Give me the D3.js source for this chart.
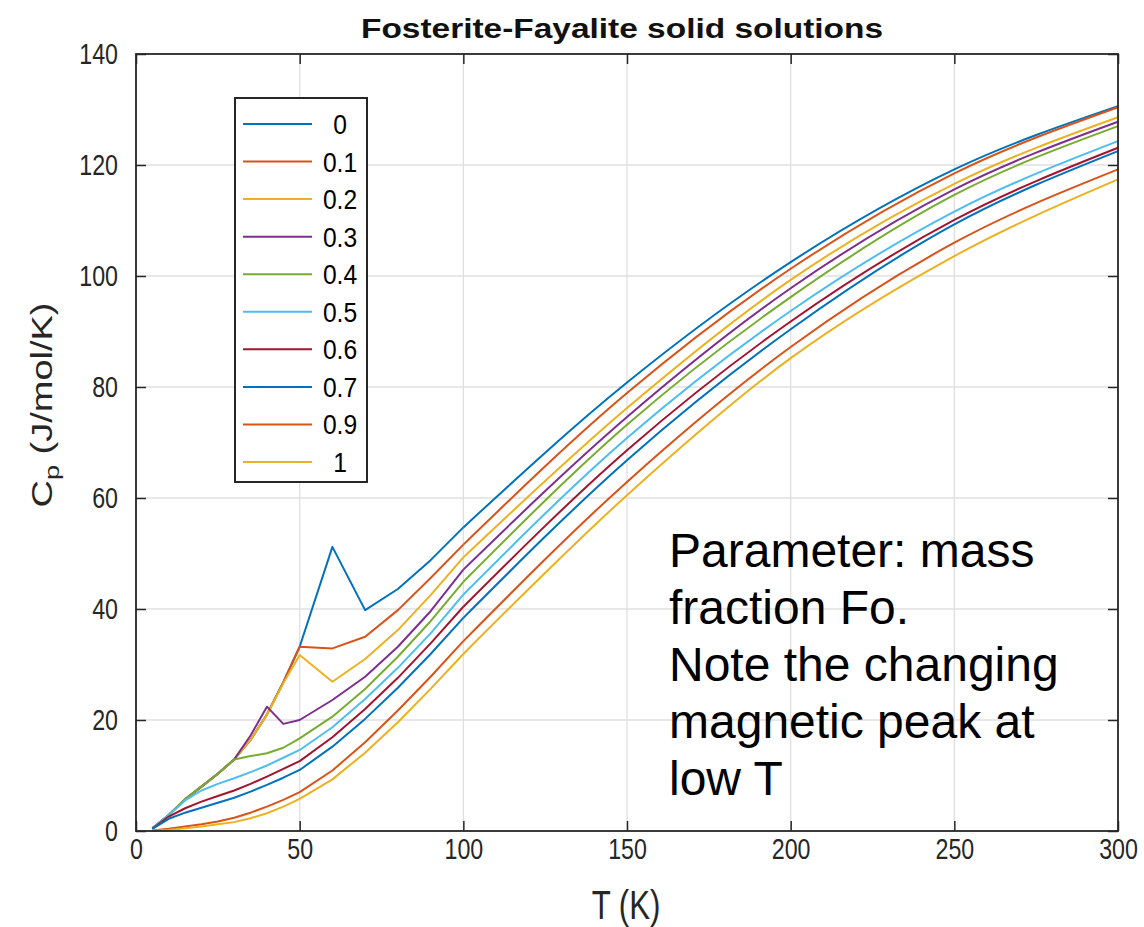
<!DOCTYPE html>
<html>
<head>
<meta charset="utf-8">
<script src="https://cdn.jsdelivr.net/npm/d3@7"></script>
<style>
  html, body { margin: 0; padding: 0; background: #fff; }
  svg { display: block; }
</style>
</head>
<body>
<svg id="chart" width="1144" height="927"></svg>
<script>
// ---- data ----
const temps = [5,10,15,20,25,30,35,40,45,50,60,70,80,90,100,150,200,250,300];
const seriesNames = ["0","0.1","0.2","0.3","0.4","0.5","0.6","0.7","0.9","1"];
const fo00 = [0.5,2.9,5.7,8.0,10.3,12.9,16.4,21.0,26.8,33.2,51.2,39.8,43.6,48.8,54.7,80.8,102.5,119.2,130.6];
const fo01 = [0.5,2.9,5.7,8.0,10.3,12.9,16.4,21.0,26.8,33.2,32.9,35.0,39.8,45.6,51.6,78.9,101.3,118.5,130.4];
const fo02 = [0.5,2.9,5.7,8.0,10.3,12.9,16.4,21.0,26.6,31.7,26.9,31.0,36.2,42.5,49.3,76.2,99.3,116.6,128.6];
const fo03 = [0.5,2.9,5.7,8.0,10.3,12.9,17.2,22.4,19.3,20.0,23.6,27.8,33.2,39.6,47.1,74.6,97.8,115.6,127.8];
const fo04 = [0.5,2.9,5.7,8.0,10.3,12.9,13.5,14.0,15.0,16.7,20.6,25.6,31.4,37.8,44.9,73.2,96.2,114.6,127.0];
const fo05 = [0.5,2.9,5.5,7.3,8.5,9.5,10.6,11.8,13.2,14.6,18.7,23.8,29.4,35.6,42.6,70.8,93.7,111.6,124.3];
const fo06 = [0.4,2.6,4.1,5.3,6.3,7.3,8.5,9.8,11.2,12.6,16.9,22.0,27.6,33.8,40.4,68.6,91.8,110.1,123.1];
const fo07 = [0.4,2.2,3.3,4.2,5.1,6.0,7.1,8.3,9.6,11.0,15.2,20.2,25.8,31.9,38.4,66.8,90.4,109.3,122.5];
const fo09 = [0.1,0.4,0.8,1.2,1.7,2.4,3.3,4.4,5.6,7.0,10.9,16.0,21.7,27.8,34.2,62.9,87.2,106.0,119.2];
const fo10 = [0.05,0.2,0.5,0.8,1.2,1.6,2.3,3.2,4.4,5.8,9.3,14.1,19.6,25.6,31.9,60.5,85.2,103.6,117.4];
const seriesValues = [fo00,fo01,fo02,fo03,fo04,fo05,fo06,fo07,fo09,fo10];
const colors = ["#0072BD","#D95319","#EDB120","#7E2F8E","#77AC30","#4DBEEE","#A2142F","#0072BD","#D95319","#EDB120"];
const xTicks = [0,50,100,150,200,250,300];
const yTicks = [0,20,40,60,80,100,120,140];
const titleText = "Fosterite-Fayalite solid solutions";
const xLabel = "T (K)";
const noteLines = ["Parameter: mass","fraction Fo.","Note the changing","magnetic peak at","low T"];

// ---- layout ----
const L = 136, R = 1118, T = 54, B = 831;
const x = d3.scaleLinear().domain([0,300]).range([L,R]);
const y = d3.scaleLinear().domain([0,140]).range([B,T]);
const axisColor = "#262626";
const font = "'Liberation Sans', Arial, sans-serif";
const SX = 0.8; // horizontal squeeze of the figure text

const svg = d3.select("#chart");
svg.append("rect").attr("width",1144).attr("height",927).attr("fill","#fff");

// grid
const grid = svg.append("g").attr("stroke","#e0e0e0").attr("stroke-width",1.3);
grid.selectAll("line.gx").data(xTicks.slice(1,-1)).join("line")
  .attr("x1",d=>x(d)).attr("x2",d=>x(d)).attr("y1",T).attr("y2",B);
grid.selectAll("line.gy").data(yTicks.slice(1,-1)).join("line")
  .attr("y1",d=>y(d)).attr("y2",d=>y(d)).attr("x1",L).attr("x2",R);

// series
const lowLine = d3.line().x(d=>x(d[0])).y(d=>y(d[1])).curve(d3.curveLinear);
const highLine = d3.line().x(d=>x(d[0])).y(d=>y(d[1])).curve(d3.curveMonotoneX);
const plotG = svg.append("g").attr("fill","none").attr("stroke-width",2).attr("stroke-linejoin","round");
seriesValues.forEach((vals,i) => {
  const pts = temps.map((t,j)=>[t,vals[j]]);
  plotG.append("path").attr("d", lowLine(pts.filter(p=>p[0]<=100))).attr("stroke",colors[i]);
  plotG.append("path").attr("d", highLine(pts.filter(p=>p[0]>=100))).attr("stroke",colors[i]);
});

// axes
function styleAxis(g){
  g.select(".domain").remove();
  g.selectAll(".tick line").attr("stroke",axisColor).attr("stroke-width",1.5);
  g.selectAll(".tick text").attr("fill",axisColor).style("font-family",font).style("font-size","29px");
}
const xAxis = svg.append("g").attr("transform",`translate(0,${B})`)
  .call(d3.axisBottom(x).tickValues(xTicks).tickSizeInner(-10).tickSizeOuter(0).tickPadding(7));
styleAxis(xAxis);
xAxis.selectAll(".tick text").attr("transform",`scale(${SX},1)`);
const xTop = svg.append("g").attr("transform",`translate(0,${T})`)
  .call(d3.axisTop(x).tickValues(xTicks).tickSizeInner(-10).tickSizeOuter(0).tickFormat(""));
styleAxis(xTop);
const yAxis = svg.append("g").attr("transform",`translate(${L},0)`)
  .call(d3.axisLeft(y).tickValues(yTicks).tickSizeInner(-10).tickSizeOuter(0).tickPadding(18));
styleAxis(yAxis);
yAxis.selectAll(".tick text").attr("x",-18/SX).attr("transform",`scale(${SX},1)`);
const yRight = svg.append("g").attr("transform",`translate(${R},0)`)
  .call(d3.axisRight(y).tickValues(yTicks).tickSizeInner(-10).tickSizeOuter(0).tickFormat(""));
styleAxis(yRight);

// box
svg.append("rect").attr("x",L).attr("y",T).attr("width",R-L).attr("height",B-T)
  .attr("fill","none").attr("stroke",axisColor).attr("stroke-width",1.8);

// title
svg.append("text").attr("x",622).attr("y",38).attr("text-anchor","middle")
  .attr("textLength",522).attr("lengthAdjust","spacingAndGlyphs")
  .style("font-family",font).style("font-size","28px").style("font-weight","bold")
  .attr("fill","#111").text(titleText);

// x label
svg.append("text").attr("transform",`translate(626,919) scale(0.78,1)`).attr("text-anchor","middle")
  .style("font-family",font).style("font-size","40px").attr("fill",axisColor).text(xLabel);

// y label
const yl = svg.append("text").attr("transform",`translate(52,405) rotate(-90) scale(1,0.78)`)
  .attr("text-anchor","middle").style("font-family",font).style("font-size","38px").attr("fill",axisColor);
yl.append("tspan").text("C");
yl.append("tspan").attr("dy",9).style("font-size","27px").text("p");
yl.append("tspan").attr("dy",-9).text(" (J/mol/K)");

// legend
const lg = svg.append("g");
lg.append("rect").attr("x",235).attr("y",98).attr("width",132).attr("height",384)
  .attr("fill","#fff").attr("stroke",axisColor).attr("stroke-width",2);
const legY = d3.scalePoint().domain(seriesNames).range([124,462]);
seriesNames.forEach((n,i) => {
  lg.append("line").attr("x1",243).attr("x2",312).attr("y1",legY(n)).attr("y2",legY(n))
    .attr("stroke",colors[i]).attr("stroke-width",2);
  lg.append("text").attr("transform",`translate(340,${legY(n)+10}) scale(0.88,1)`)
    .attr("text-anchor","middle").style("font-family",font).style("font-size","28px")
    .attr("fill","#000").text(n);
});

// annotation
const note = svg.append("text").style("font-family",font).style("font-size","48px").attr("fill","#000");
noteLines.forEach((s,i) => note.append("tspan").attr("x",669).attr("y",567 + i*57).text(s));
</script>
</body>
</html>
